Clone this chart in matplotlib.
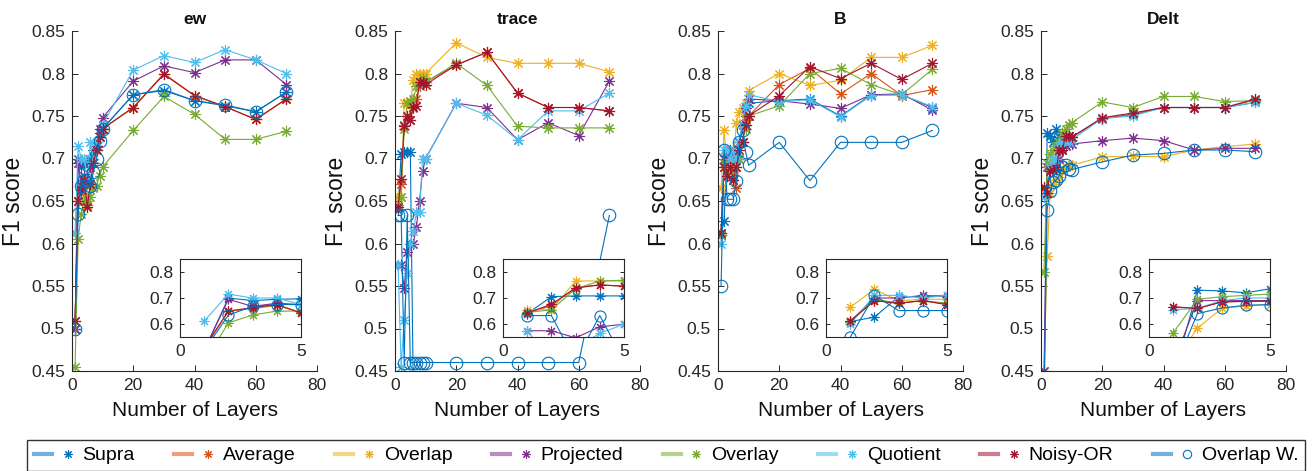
import matplotlib
matplotlib.use('Agg')
import matplotlib.pyplot as plt
from matplotlib.lines import Line2D
from matplotlib.legend_handler import HandlerTuple

plt.rcParams['font.family'] = ['Liberation Sans', 'DejaVu Sans']

# x positions (number of layers)
layers = [1, 2, 3, 4, 5, 6, 7, 8, 9, 10, 20, 30, 40, 50, 60, 70]

methods = ['Supra', 'Average', 'Overlap', 'Projected', 'Overlay', 'Quotient', 'Noisy-OR', 'Overlap W.']
colors = ['#0072BD', '#D95319', '#EDB120', '#7E2F8E', '#77AC30', '#4DBEEE', '#A2142F', '#0072BD']
titles = ['ew', 'trace', 'B', 'Delt']

# ---- ew ----
ew_supra = [0.50, 0.70, 0.69, 0.695, 0.697, 0.70, 0.71, 0.72, 0.73, 0.735, 0.775, 0.780, 0.768, 0.762, 0.755, 0.778]
ew_average = [0.509, 0.65, 0.66, 0.672, 0.645, 0.67, 0.695, 0.71, 0.725, 0.735, 0.760, 0.800, 0.774, 0.761, 0.746, 0.770]
ew_overlap = [0.509, 0.65, 0.663, 0.675, 0.643, 0.67, 0.695, 0.71, 0.725, 0.735, 0.760, 0.799, 0.774, 0.761, 0.746, 0.770]
ew_projected = [0.50, 0.695, 0.668, 0.68, 0.675, 0.69, 0.70, 0.715, 0.735, 0.748, 0.791, 0.809, 0.801, 0.816, 0.816, 0.787]
ew_overlay = [0.455, 0.605, 0.635, 0.65, 0.65, 0.655, 0.665, 0.668, 0.68, 0.69, 0.733, 0.773, 0.752, 0.7225, 0.7225, 0.732]
ew_quotient = [0.612, 0.715, 0.70, 0.70, 0.675, 0.72, 0.70, 0.72, 0.725, 0.74, 0.804, 0.821, 0.813, 0.828, 0.816, 0.800]
ew_noisyor = [0.509, 0.65, 0.663, 0.675, 0.643, 0.67, 0.695, 0.71, 0.725, 0.735, 0.760, 0.799, 0.774, 0.761, 0.746, 0.770]
ew_overlapw = [0.50, 0.635, 0.668, 0.675, 0.675, 0.668, 0.684, 0.699, 0.721, 0.735, 0.775, 0.781, 0.768, 0.763, 0.755, 0.778]

# ---- trace ----
tr_supra = [0.64, 0.705, 0.708, 0.708, 0.708, 0.42, 0.42, 0.42, 0.42, 0.42, 0.42, 0.42, 0.42, 0.42, 0.42, 0.42]
tr_average = [0.643, 0.67, 0.74, 0.75, 0.745, 0.76, 0.77, 0.785, 0.79, 0.79, 0.810, 0.825, 0.777, 0.760, 0.760, 0.756]
tr_overlap = [0.655, 0.655, 0.765, 0.765, 0.765, 0.792, 0.80, 0.80, 0.80, 0.80, 0.836, 0.819, 0.812, 0.812, 0.812, 0.802]
tr_projected = [0.575, 0.575, 0.548, 0.59, 0.60, 0.60, 0.62, 0.65, 0.685, 0.70, 0.765, 0.760, 0.722, 0.742, 0.727, 0.791]
tr_overlay = [0.645, 0.655, 0.735, 0.765, 0.768, 0.77, 0.785, 0.79, 0.795, 0.79, 0.812, 0.786, 0.738, 0.736, 0.736, 0.736]
tr_quotient = [0.575, 0.455, 0.51, 0.565, 0.60, 0.615, 0.637, 0.637, 0.70, 0.70, 0.765, 0.751, 0.722, 0.756, 0.756, 0.777]
tr_noisyor = [0.643, 0.676, 0.738, 0.750, 0.745, 0.761, 0.762, 0.79, 0.79, 0.787, 0.810, 0.825, 0.777, 0.760, 0.760, 0.756]
tr_overlapw = [0.633, 0.633, 0.46, 0.633, 0.46, 0.46, 0.46, 0.46, 0.46, 0.46, 0.46, 0.46, 0.46, 0.46, 0.46, 0.633]

# ---- B ----
b_supra = [0.61, 0.627, 0.705, 0.705, 0.71, 0.70, 0.72, 0.74, 0.75, 0.765, 0.768, 0.770, 0.750, 0.775, 0.775, 0.760]
b_average = [0.612, 0.69, 0.68, 0.69, 0.675, 0.665, 0.70, 0.72, 0.745, 0.75, 0.787, 0.806, 0.776, 0.800, 0.774, 0.781]
b_overlap = [0.665, 0.733, 0.69, 0.695, 0.695, 0.742, 0.755, 0.76, 0.765, 0.78, 0.800, 0.786, 0.792, 0.819, 0.819, 0.833]
b_projected = [0.61, 0.70, 0.70, 0.71, 0.705, 0.70, 0.72, 0.74, 0.76, 0.77, 0.768, 0.764, 0.759, 0.775, 0.776, 0.757]
b_overlay = [0.61, 0.695, 0.68, 0.69, 0.68, 0.69, 0.70, 0.72, 0.735, 0.75, 0.762, 0.800, 0.806, 0.787, 0.775, 0.805]
b_quotient = [0.60, 0.71, 0.71, 0.70, 0.71, 0.70, 0.72, 0.74, 0.762, 0.775, 0.767, 0.769, 0.749, 0.774, 0.775, 0.761]
b_noisyor = [0.612, 0.69, 0.68, 0.69, 0.675, 0.69, 0.71, 0.72, 0.74, 0.75, 0.774, 0.808, 0.794, 0.812, 0.793, 0.812]
b_overlapw = [0.55, 0.71, 0.652, 0.652, 0.652, 0.674, 0.72, 0.733, 0.708, 0.692, 0.719, 0.674, 0.719, 0.719, 0.719, 0.733]

# ---- Delt ----
d_supra = [0.40, 0.73, 0.727, 0.72, 0.735, 0.725, 0.72, 0.72, 0.722, 0.725, 0.747, 0.752, 0.760, 0.760, 0.760, 0.766]
d_average = [0.665, 0.66, 0.685, 0.688, 0.69, 0.71, 0.712, 0.725, 0.727, 0.725, 0.747, 0.752, 0.760, 0.760, 0.760, 0.769]
d_overlap = [0.45, 0.585, 0.66, 0.67, 0.675, 0.678, 0.685, 0.69, 0.692, 0.692, 0.702, 0.7025, 0.702, 0.710, 0.714, 0.717]
d_projected = [0.45, 0.69, 0.69, 0.69, 0.69, 0.70, 0.71, 0.715, 0.717, 0.717, 0.721, 0.724, 0.721, 0.710, 0.712, 0.712]
d_overlay = [0.567, 0.695, 0.705, 0.71, 0.715, 0.72, 0.73, 0.735, 0.74, 0.742, 0.7665, 0.760, 0.773, 0.773, 0.767, 0.768]
d_quotient = [0.655, 0.66, 0.69, 0.70, 0.70, 0.715, 0.72, 0.72, 0.72, 0.722, 0.747, 0.750, 0.760, 0.760, 0.760, 0.766]
d_noisyor = [0.667, 0.66, 0.685, 0.687, 0.688, 0.71, 0.71, 0.727, 0.727, 0.725, 0.748, 0.7535, 0.760, 0.760, 0.760, 0.770]
d_overlapw = [0.42, 0.64, 0.662, 0.672, 0.675, 0.68, 0.69, 0.692, 0.688, 0.687, 0.696, 0.704, 0.706, 0.710, 0.710, 0.708]

panels = [
    [ew_supra, ew_average, ew_overlap, ew_projected, ew_overlay, ew_quotient, ew_noisyor, ew_overlapw],
    [tr_supra, tr_average, tr_overlap, tr_projected, tr_overlay, tr_quotient, tr_noisyor, tr_overlapw],
    [b_supra, b_average, b_overlap, b_projected, b_overlay, b_quotient, b_noisyor, b_overlapw],
    [d_supra, d_average, d_overlap, d_projected, d_overlay, d_quotient, d_noisyor, d_overlapw],
]

W, H = 1314, 471
star = (8, 2, 0)
axcol = '#262626'


def draw(ax, series, inset=False):
    for k, vals in enumerate(series):
        if methods[k] == 'Overlap W.':
            ax.plot(layers, vals, color=colors[k], lw=0.8, marker='o', ms=9 if not inset else 8,
                    mfc='none', mew=0.8)
        else:
            ax.plot(layers, vals, color=colors[k], lw=0.8, marker=star, ms=8 if not inset else 7,
                    mew=0.8)


def style(ax, box=False):
    for side in ['left', 'bottom', 'top', 'right']:
        ax.spines[side].set_color(axcol)
        ax.spines[side].set_linewidth(0.8)
    if not box:
        ax.spines['top'].set_visible(False)
        ax.spines['right'].set_visible(False)
    ax.tick_params(direction='in', length=4, width=0.7, colors=axcol, labelsize=12.5, pad=5,
                   top=box, right=box, labelcolor='#262626')


fig = plt.figure(figsize=(W / 100, H / 100), dpi=100)
lefts = [72, 395, 718, 1041]

for i, l in enumerate(lefts):
    ax = fig.add_axes([l / W, (H - 371) / H, 245 / W, 340 / H])
    draw(ax, panels[i])
    ax.set_xlim(0, 80)
    ax.set_ylim(0.45, 0.85)
    ax.set_xticks([0, 20, 40, 60, 80])
    yt = [0.45, 0.5, 0.55, 0.6, 0.65, 0.7, 0.75, 0.8, 0.85]
    ax.set_yticks(yt)
    ax.set_yticklabels(['%g' % v for v in yt])
    style(ax)
    ax.set_title(titles[i], fontsize=12.5, fontweight='bold', pad=5, color='#111111')
    ax.set_ylabel('F1 score', fontsize=16.5, color='#111111')
    ax.yaxis.set_label_coords(-0.19, 0.5)
    ax.set_xlabel('Number of Layers', fontsize=15, color='#111111', labelpad=6)

    ins = fig.add_axes([(l + 108) / W, (H - 337.3) / H, 121 / W, 78.6 / H])
    draw(ins, panels[i], inset=True)
    ins.set_xlim(0, 5)
    ins.set_ylim(0.55, 0.85)
    ins.set_xticks([0, 5])
    ins.set_yticks([0.6, 0.7, 0.8])
    ins.set_yticklabels(['0.6', '0.7', '0.8'])
    style(ins, box=True)
    ins.tick_params(length=3)

handles = []
for k, name in enumerate(methods):
    m = 'o' if name == 'Overlap W.' else star
    thick = Line2D([], [], color=colors[k], lw=3, alpha=0.55)
    mark = Line2D([], [], color=colors[k], marker=m, ls='none', ms=6, mfc='none' if m == 'o' else colors[k],
                  mew=0.8)
    handles.append((thick, mark))

leg = fig.legend(handles, methods, handler_map={tuple: HandlerTuple(ndivide=None)},
                 ncol=8, loc='upper left', mode='expand',
                 bbox_to_anchor=(27 / W, -0.05, 1278 / W, (H - 440) / H + 0.05),
                 fontsize=14, frameon=True, fancybox=False, edgecolor='black',
                 borderaxespad=0, handlelength=2.2, handletextpad=0.3, columnspacing=0.8,
                 borderpad=0.35)
leg.get_frame().set_linewidth(1.0)

fig.savefig('out.png', dpi=100)
